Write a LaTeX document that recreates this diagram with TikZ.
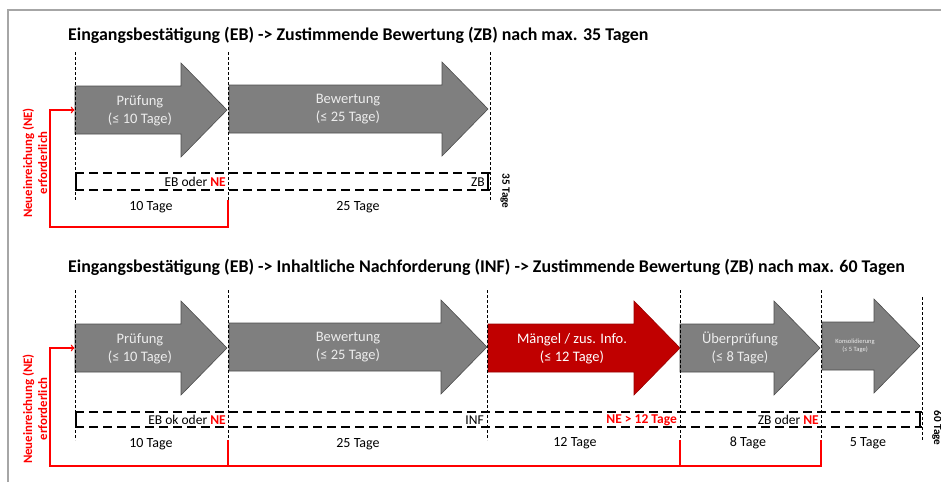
\documentclass[tikz,border=0pt]{standalone}
\usepackage{fontspec}
\setmainfont{Carlito}
\usepackage{xcolor}
\usepackage{tikz}
\usetikzlibrary{calc, positioning}
\definecolor{phasegray}{HTML}{7F7F7F}
\definecolor{phasered}{HTML}{C00000}
\definecolor{nered}{HTML}{FF0000}
\newcommand{\phasearr}[4]{\path[#1] (#2,#4-24) -- (#3-46,#4-24) -- (#3-46,#4-47) -- (#3,#4)
  -- (#3-46,#4+47) -- (#3-46,#4+24) -- (#2,#4+24) -- cycle;}
\newcommand{\NE}{\textcolor{nered}{\bfseries NE}}
\tikzset{
    titlenode/.style = {draw=none, inner sep=0em, anchor=west, font=\fontsize{17.9}{20}\selectfont\bfseries},
    phasenode/.style = {draw=none, inner sep=0em, align=center, text=white!93!black, 
      font=\fontsize{14.5}{18}\selectfont},
    tinynode/.style = {phasenode, font=\fontsize{6.5}{8}\selectfont},
    labelnode/.style = {draw=none, inner sep=0em, anchor=east, font=\fontsize{13.5}{15}\selectfont},
    daysnode/.style = {draw=none, inner sep=0em, font=\fontsize{14}{16}\selectfont},
    totalnode/.style = {draw=none, inner sep=0em, rotate=-90, font=\fontsize{11.2}{13}\selectfont\bfseries},
    sidenode/.style = {draw=none, inner sep=0em, rotate=90, align=center, text=nered, 
      font=\fontsize{12.8}{15}\selectfont\bfseries},
    grayarrow/.style = {fill=phasegray, draw=phasegray!60!black, line width=0.6pt},
    redarrow/.style = {fill=phasered, draw=phasered!80!black, line width=0.6pt},
    markline/.style = {black, line width=1pt, dash pattern=on 3pt off 2pt},
    barline/.style = {black, line width=2.8pt, dash pattern=on 9pt off 5pt},
    feedback/.style = {nered, line width=1.4pt},
    connect/.style = {feedback, ->, >=to, shorten >=0.5pt}
}
\begin{document}
\begin{tikzpicture}[x=1pt, y=-1pt]
    \useasboundingbox (0,0) rectangle (941,482);
    \draw[gray!70, line width=1.5pt] (8,482) -- (8,10) -- (941,10);

    \node [titlenode, name=titleA] at (68,35) {Eingangsbestätigung (EB) -> Zustimmende Bewertung (ZB) nach max. 35 Tagen};
    \phasearr{grayarrow}{75}{227}{110}
    \phasearr{grayarrow}{229}{488}{109}
    \node [phasenode, name=pruefA] at (140,111) {Prüfung\\(≤ 10 Tage)};
    \node [phasenode, name=bewA] at (348,109) {Bewertung\\(≤ 25 Tage)};
    \foreach \x/\n in {75/0, 228/1, 490/2} {
        \coordinate (a\n top) at (\x,52);
        \coordinate (a\n bot) at (\x,200);
        \draw[markline] (a\n top) -- (a\n bot);
    }
    \draw[barline] (75,173) -- (490,173);
    \draw[barline] (75,190) -- (490,190);
    \draw[line width=2pt] (76,173) -- (76,190);
    \draw[line width=2pt] (488,173) -- (488,190);
    \node [labelnode, name=ebA] at (226,182) {EB oder \NE};
    \node [labelnode, name=zbA] at (485,182) {ZB};
    \node [daysnode, name=dA1] at (151,207) {10 Tage};
    \node [daysnode, name=dA2] at (358,207) {25 Tage};
    \node [totalnode, name=totA] at (505,191) {35 Tage};
    \node [sidenode, name=neA] at (35,163) {Neueinreichung (NE)\\erforderlich};
    \coordinate (inA) at (75,110);
    \coordinate (redA) at (50,227);
    \draw[connect] (a1bot) |- (redA) |- (inA);

    \node [titlenode, name=titleB] at (68,267) {Eingangsbestätigung (EB) -> Inhaltliche Nachforderung (INF) -> Zustimmende Bewertung (ZB) nach max. 60 Tagen};
    \phasearr{grayarrow}{75}{227}{348}
    \phasearr{grayarrow}{229}{487}{347}
    \phasearr{redarrow}{488}{680}{348}
    \phasearr{grayarrow}{680}{820}{348}
    \phasearr{grayarrow}{822}{920}{346}
    \node [phasenode, name=pruefB] at (140,349) {Prüfung\\(≤ 10 Tage)};
    \node [phasenode, name=bewB] at (348,347) {Bewertung\\(≤ 25 Tage)};
    \node [phasenode, name=maengel, text=white] at (572,349) {Mängel / zus. Info.\\(≤ 12 Tage)};
    \node [phasenode, name=ueberB] at (740,348) {Überprüfung\\(≤ 8 Tage)};
    \node [tinynode, name=konsB] at (855,346) {Konsolidierung\\(≤ 5 Tage)};
    \foreach \x/\n in {75/0, 228/1, 487/2, 680/3, 821/4} {
        \coordinate (b\n top) at (\x,290);
        \coordinate (b\n bot) at (\x,440);
        \draw[markline] (b\n top) -- (b\n bot);
    }
    \coordinate (b5top) at (922,297);
    \coordinate (b5bot) at (922,440);
    \draw[markline] (b5top) -- (b5bot);
    \draw[barline] (75,412) -- (922,412);
    \draw[barline] (75,427) -- (922,427);
    \draw[line width=2pt] (76,412) -- (76,427);
    \draw[line width=2pt] (920,412) -- (920,427);
    \node [labelnode, name=ebB] at (226,420) {EB ok oder \NE};
    \node [labelnode, name=infB] at (484,420) {INF};
    \node [labelnode, name=neB, text=nered, font=\fontsize{13.5}{15}\selectfont\bfseries] at (677,420) {NE > 12 Tage};
    \node [labelnode, name=zbB] at (819,420) {ZB oder \NE};
    \node [daysnode, name=dB1] at (151,444) {10 Tage};
    \node [daysnode, name=dB2] at (358,444) {25 Tage};
    \node [daysnode, name=dB3] at (575,443) {12 Tage};
    \node [daysnode, name=dB4] at (748,443) {8 Tage};
    \node [daysnode, name=dB5] at (868,443) {5 Tage};
    \node [totalnode, name=totB] at (937,428) {60 Tage};
    \node [sidenode, name=sideB] at (35,409) {Neueinreichung (NE)\\erforderlich};
    \coordinate (inB) at (75,348);
    \coordinate (redB) at (50,466);
    \draw[connect] (b4bot) |- (redB) |- (inB);
    \draw[feedback] (b1bot) -- (b1bot |- redB);
    \draw[feedback] (b3bot) -- (b3bot |- redB);
\end{tikzpicture}
\end{document}
